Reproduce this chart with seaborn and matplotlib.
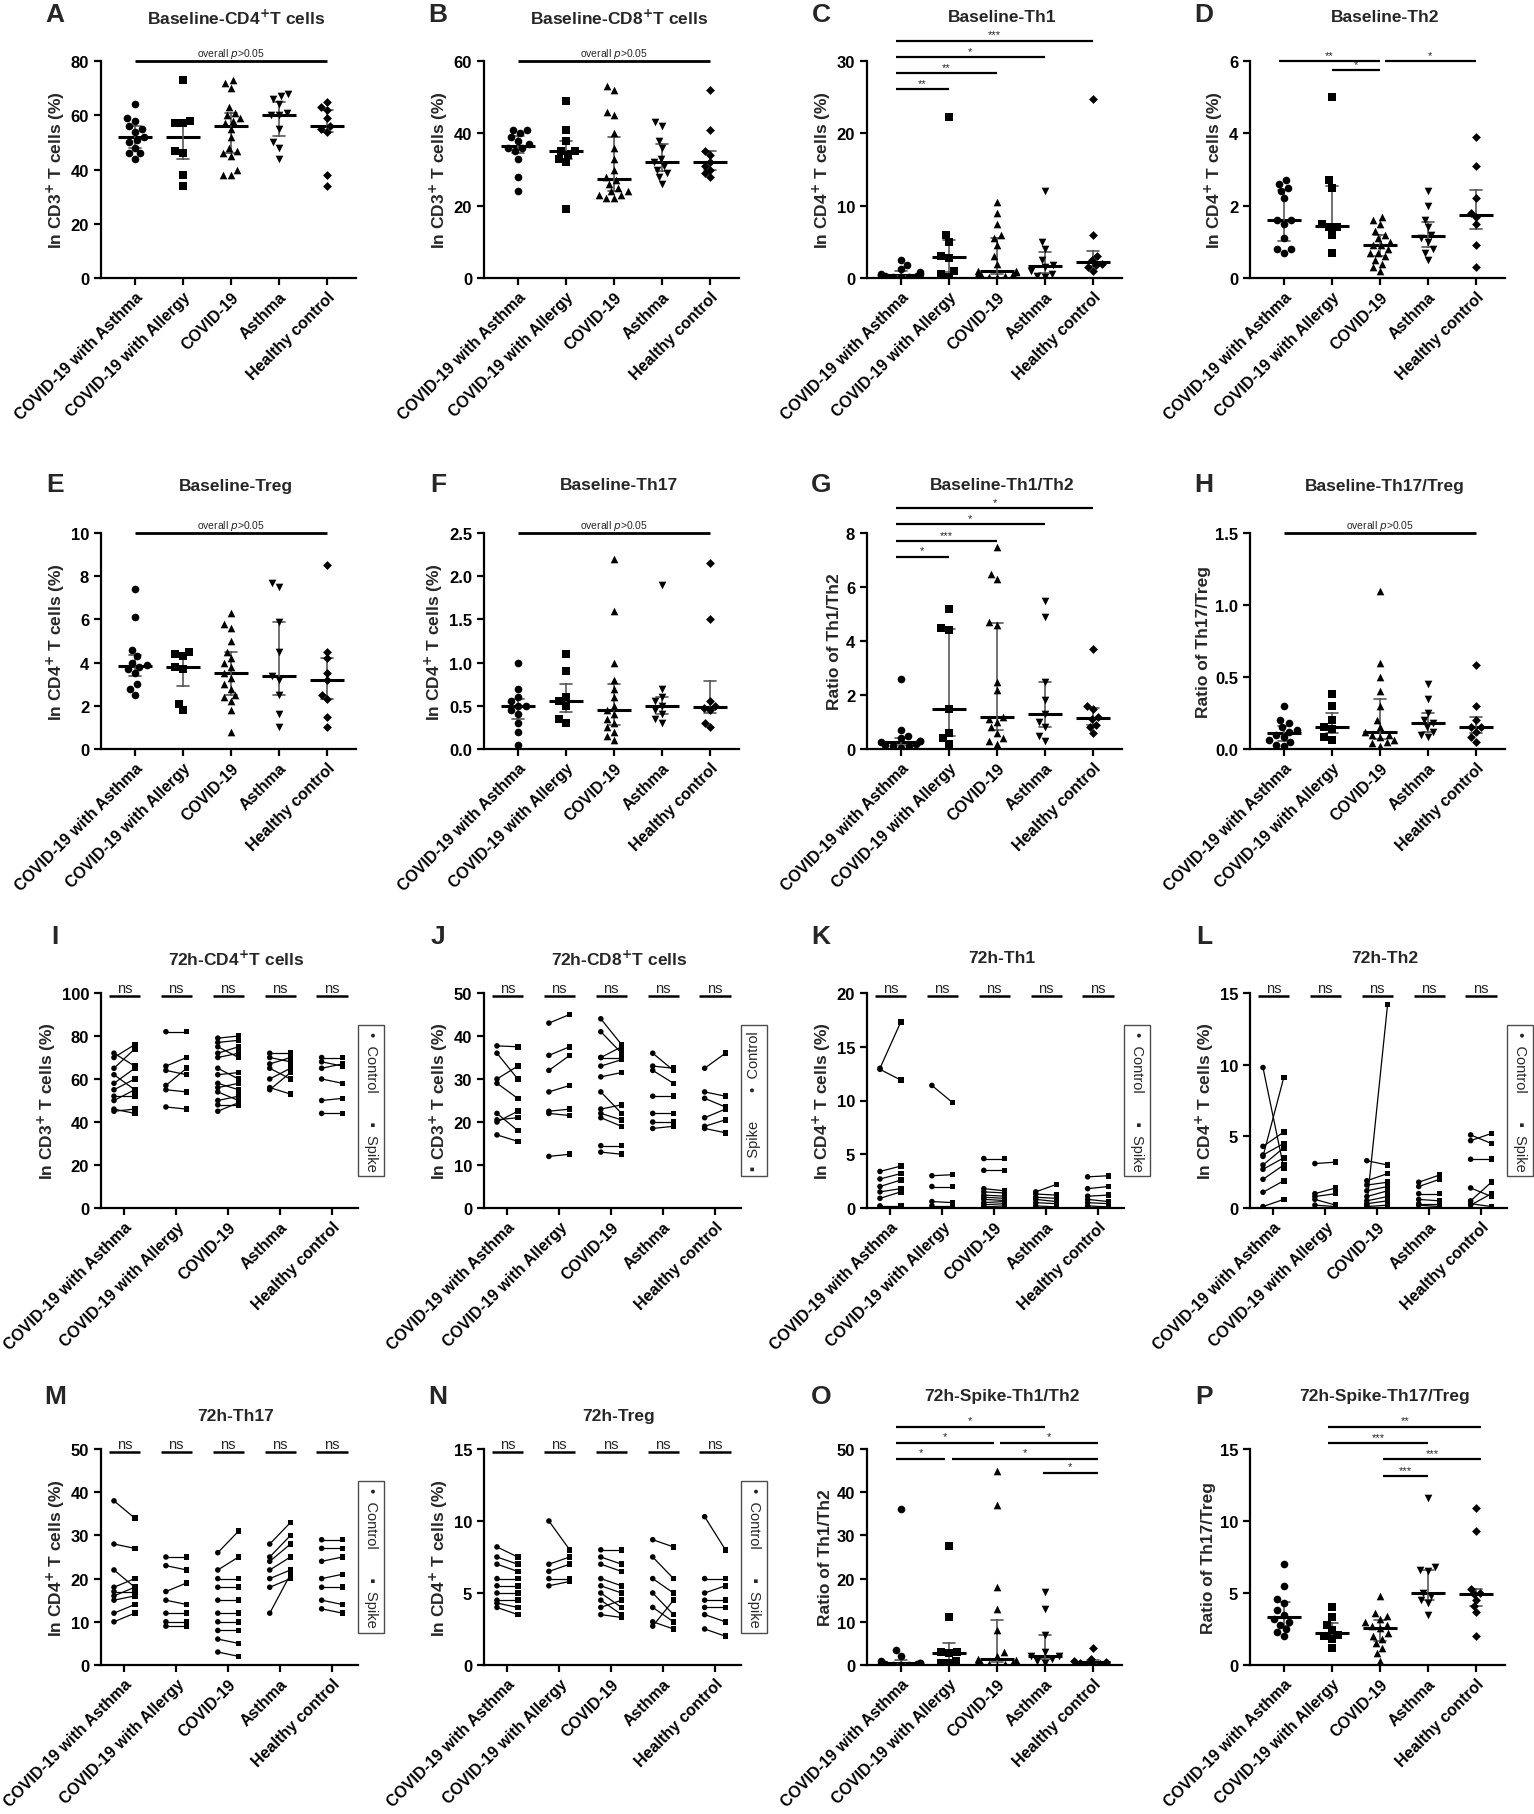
import warnings
import numpy as np
import pandas as pd
import seaborn as sns
import matplotlib.pyplot as plt

warnings.filterwarnings('ignore')

groups = ['COVID-19 with Asthma', 'COVID-19 with Allergy', 'COVID-19', 'Asthma', 'Healthy control']
group_markers = ['o', 's', '^', 'v', 'D']

# ---- baseline scatter panels (one list per group) ----
base_cd4 = [[64, 59, 58, 56, 55, 54, 52, 51, 50, 48, 46, 46, 44],
            [73, 58, 57, 57, 47, 46, 38, 34],
            [73, 72, 70, 63, 61, 60, 59, 58, 57, 55, 52, 48, 47, 46, 45, 40, 38, 38],
            [68, 67, 66, 64, 61, 60, 60, 55, 50, 48, 44],
            [65, 63, 62, 59, 56, 55, 54, 38, 34]]
base_cd8 = [[41, 41, 40, 39, 38, 37, 36, 36, 35, 33, 28, 24],
            [49, 41, 38, 35, 35, 34, 33, 32, 19],
            [53, 52, 46, 45, 40, 36, 33, 30, 28, 27, 26, 25, 24, 24, 23, 23, 22, 22],
            [43, 42, 38, 36, 33, 32, 31, 30, 29, 28, 26],
            [52, 41, 35, 34, 32, 31, 30, 29, 28]]
base_th1 = [[2.5, 1.8, 1.2, 0.8, 0.6, 0.5, 0.4, 0.3, 0.3, 0.2, 0.2, 0.1],
            [22.2, 6.0, 5.0, 3.0, 2.8, 1.0, 0.5, 0.2],
            [10.5, 9.0, 7.5, 6.0, 5.5, 4.5, 3.0, 2.0, 1.0, 0.9, 0.8, 0.6, 0.5, 0.4, 0.3, 0.2, 0.1],
            [12.0, 5.0, 4.0, 2.5, 1.8, 1.5, 1.0, 0.6, 0.3, 0.2],
            [24.8, 6.0, 3.0, 2.5, 2.0, 1.8, 1.5, 1.0]]
base_th2 = [[2.7, 2.6, 2.5, 2.4, 2.2, 1.6, 1.6, 1.5, 1.1, 0.8, 0.8, 0.7],
            [5.0, 2.7, 2.5, 1.5, 1.4, 1.4, 1.2, 0.7],
            [1.7, 1.6, 1.5, 1.3, 1.2, 1.1, 1.0, 0.9, 0.9, 0.8, 0.7, 0.7, 0.6, 0.5, 0.4, 0.3, 0.2],
            [2.4, 2.0, 1.6, 1.4, 1.2, 1.1, 1.0, 0.8, 0.7, 0.5],
            [3.9, 3.1, 2.2, 1.8, 1.7, 1.5, 0.9, 0.3]]
base_treg = [[7.4, 6.1, 4.6, 4.3, 4.0, 3.9, 3.8, 3.7, 3.5, 3.0, 2.8, 2.5],
             [4.5, 4.4, 4.3, 3.8, 3.7, 2.1, 1.8],
             [6.3, 5.8, 5.6, 5.0, 4.5, 4.2, 4.0, 3.8, 3.5, 3.3, 3.0, 2.8, 2.5, 2.4, 2.2, 1.8, 0.8],
             [7.7, 7.5, 5.9, 4.5, 3.4, 3.2, 2.5, 1.6, 1.0],
             [8.5, 4.5, 4.2, 3.5, 3.2, 2.5, 2.3, 1.5, 1.0]]
base_th17 = [[1.0, 0.7, 0.6, 0.55, 0.5, 0.5, 0.45, 0.4, 0.3, 0.2, 0.05],
             [1.1, 0.9, 0.6, 0.55, 0.5, 0.35, 0.3],
             [2.2, 1.6, 1.0, 0.8, 0.7, 0.6, 0.5, 0.45, 0.4, 0.35, 0.3, 0.25, 0.2, 0.15, 0.1],
             [1.9, 0.7, 0.6, 0.55, 0.5, 0.45, 0.4, 0.35, 0.3],
             [2.15, 1.5, 0.55, 0.5, 0.48, 0.45, 0.3, 0.25]]
base_th1_th2 = [[2.6, 0.7, 0.5, 0.4, 0.3, 0.3, 0.25, 0.2, 0.15, 0.1, 0.1, 0.05],
                [5.2, 4.5, 4.4, 1.5, 0.6, 0.4, 0.2],
                [7.5, 6.5, 6.3, 4.7, 4.6, 2.5, 2.2, 1.2, 1.1, 1.0, 0.8, 0.6, 0.4, 0.3, 0.2],
                [5.5, 4.9, 2.5, 1.8, 1.3, 1.0, 0.8, 0.5, 0.3],
                [3.7, 1.6, 1.5, 1.2, 1.1, 0.9, 0.8, 0.6]]
base_th17_treg = [[0.3, 0.2, 0.18, 0.15, 0.13, 0.12, 0.1, 0.08, 0.06, 0.05, 0.03, 0.02],
                  [0.38, 0.3, 0.2, 0.15, 0.14, 0.08, 0.06],
                  [1.1, 0.6, 0.5, 0.4, 0.3, 0.2, 0.15, 0.12, 0.1, 0.1, 0.08, 0.06, 0.05, 0.04, 0.02],
                  [0.45, 0.35, 0.25, 0.2, 0.18, 0.15, 0.12, 0.1, 0.08],
                  [0.58, 0.3, 0.2, 0.15, 0.15, 0.12, 0.08, 0.05]]
spike_th1_th2 = [[36, 3.5, 2, 1, 0.5, 0.5, 0.3, 0.2, 0.2, 0.1, 0.1, 0.05],
                 [27.5, 11, 3, 3, 2.7, 1, 0.5, 0.5],
                 [45, 37, 18, 13, 8, 3, 2, 1.5, 1.2, 1, 0.8, 0.5, 0.3, 0.2, 0.1],
                 [17, 13, 7, 3, 2, 2, 1.5, 1, 0.5],
                 [4, 1.5, 1, 0.8, 0.5, 0.3, 0.2, 0.1]]
spike_th17_treg = [[7.0, 5.5, 4.6, 4.3, 3.8, 3.5, 3.2, 3.0, 2.8, 2.5, 2.3, 2.0],
                   [4.0, 3.3, 2.8, 2.4, 2.1, 2.0, 1.8, 1.2],
                   [4.8, 3.6, 3.4, 3.2, 3.0, 2.8, 2.7, 2.6, 2.2, 2.0, 1.8, 1.5, 1.2, 0.8, 0.3],
                   [11.6, 6.8, 6.6, 6.5, 5.0, 4.8, 4.5, 4.3, 3.5],
                   [10.9, 9.3, 5.3, 5.0, 4.9, 4.5, 4.1, 3.7, 2.0]]

# ---- 72h paired panels: control vs spike, same order within a group ----
cd4_ctrl = [[72, 70, 65, 62, 58, 55, 52, 50, 46, 45], [82, 66, 64, 57, 55, 47],
            [79, 77, 75, 72, 70, 65, 62, 58, 56, 54, 50, 48, 45], [72, 70, 67, 65, 60, 55, 56],
            [70, 68, 65, 60, 50, 44]]
cd4_spike = [[66, 76, 74, 55, 65, 60, 52, 55, 44, 46], [82, 70, 62, 65, 54, 46],
             [80, 78, 70, 75, 72, 60, 63, 55, 58, 50, 52, 48, 49], [72, 68, 70, 60, 65, 63, 53],
             [70, 66, 67, 58, 51, 44]]
cd8_ctrl = [[37.7, 36, 30, 29, 22, 20.5, 20, 17], [43, 35.5, 32, 27, 22.5, 22, 12],
            [44, 41, 35, 35, 33, 30.5, 27, 23, 22, 21, 14.5, 13], [36, 33, 32, 26, 22, 20, 18.5],
            [32.5, 27, 25.5, 21, 19, 18.5]]
cd8_spike = [[37.5, 30, 33, 25.5, 18, 21, 22.5, 15.5], [45, 37.5, 35.5, 28.5, 23, 21.5, 12.5],
             [38, 36, 37.5, 35, 34.5, 31.5, 22, 24, 20.5, 19, 14.5, 12.5], [32, 32.5, 29, 26, 22, 20, 19],
             [36, 26, 23.5, 23, 20.5, 17.5]]
th1_ctrl = [[13, 12.9, 3.4, 2.7, 2, 1.5, 0.9, 0.2, 0.1], [11.4, 3.0, 2.0, 0.6, 0.2],
            [4.6, 3.5, 1.8, 1.5, 1.2, 1.0, 0.8, 0.5, 0.3, 0.1], [1.5, 1.3, 1.0, 0.8, 0.5, 0.2],
            [2.9, 1.8, 1.1, 0.8, 0.5, 0.2]]
th1_spike = [[17.3, 11.9, 3.9, 3.2, 2.6, 1.8, 1.5, 0.2, 0.1], [9.8, 3.1, 2.0, 0.5, 0.2],
             [4.6, 3.5, 1.6, 1.4, 1.1, 0.9, 0.7, 0.6, 0.4, 0.2], [2.2, 1.2, 0.9, 0.6, 0.4, 0.1],
             [3.0, 2.0, 1.2, 0.6, 0.4, 0.1]]
th2_ctrl = [[9.8, 4.3, 3.7, 3.6, 3.0, 2.7, 2.0, 1.1, 0.1], [3.1, 1.0, 0.8, 0.6, 0.2],
            [3.3, 1.9, 1.6, 1.2, 0.8, 0.5, 0.3, 0.2, 0.1], [1.8, 1.5, 1.0, 0.6, 0.3, 0.2],
            [5.1, 4.7, 3.4, 1.4, 0.5, 0.3, 0.2]]
th2_spike = [[2.8, 5.3, 4.5, 9.1, 4.2, 3.5, 3.0, 1.9, 0.6], [3.2, 1.4, 1.0, 0.2, 0.1],
             [3.0, 2.4, 1.8, 1.5, 1.2, 0.8, 0.5, 14.2, 0.2], [2.3, 2.0, 1.0, 0.5, 0.3, 0.1],
             [4.5, 5.2, 3.4, 0.8, 1.8, 0.1, 1.0]]
th17_ctrl = [[38, 28, 22, 18, 17, 16, 15, 12, 10], [25, 23, 17, 15, 12, 10, 9],
             [26, 22, 20, 18, 15, 12, 10, 8, 6, 3], [28, 25, 24, 22, 20, 18, 12],
             [29, 27, 24, 20, 18, 15, 13]]
th17_spike = [[34, 27, 18, 20, 17, 18, 16, 14, 12], [25, 22, 19, 14, 12, 10, 9],
              [31, 25, 20, 18, 15, 12, 10, 8, 5, 2], [33, 30, 28, 25, 22, 20, 21],
              [29, 27, 25, 21, 18, 14, 12]]
treg_ctrl = [[8.2, 7.5, 7, 6, 5.5, 5, 4.5, 4.3, 4], [10, 7, 6.5, 6, 5.5],
             [8, 7.5, 7, 6, 5.5, 5, 4.5, 4, 3.5], [8.7, 7.5, 6, 5, 4, 3, 2.7],
             [10.3, 6, 5, 4.5, 4, 3.5, 2.5]]
treg_spike = [[7.5, 7, 6.5, 6, 5.5, 5, 4.5, 4, 3.5], [8, 7.5, 7, 6, 5.8],
              [8, 7, 6.5, 5.5, 5, 4, 3.5, 4.5, 3.3], [8.2, 6, 5, 3.5, 3, 2.5, 4.5],
              [8, 6, 5.5, 4.5, 4, 3, 2]]

sns.set_theme(style='ticks')
plt.rcParams['font.family'] = ['Liberation Sans', 'DejaVu Sans']
plt.rcParams.update({'axes.linewidth': 1.6, 'xtick.major.width': 1.6, 'ytick.major.width': 1.6,
                     'xtick.major.size': 5, 'ytick.major.size': 5,
                     'xtick.color': 'black', 'ytick.color': 'black', 'axes.edgecolor': 'black'})

FW, FH = 1534, 1815
fig = plt.figure(figsize=(FW / 100, FH / 100), dpi=100)

col_x = [101, 484, 867, 1250]
row_y = [(62, 279), (534, 750), (994, 1209), (1450, 1666)]
title_y = [18, 486, 959, 1417]
letter_y = [15, 485, 937, 1397]

cd3 = r'In CD3$^{\mathbf{+}}$ T cells (%)'
cd4 = r'In CD4$^{\mathbf{+}}$ T cells (%)'


def make_ax(row, col, width, letter, title, title_high=False):
    top, bot = row_y[row]
    x = col_x[col]
    ax = fig.add_axes([x / FW, 1 - bot / FH, width / FW, (bot - top) / FH])
    fig.text((x - 46) / FW, 1 - letter_y[row] / FH, letter, fontsize=19, fontweight='bold',
             ha='center', va='center')
    ty = letter_y[row] if title_high else title_y[row]
    fig.text((x + 135) / FW, 1 - ty / FH, title, fontsize=12.5, fontweight='bold',
             ha='center', va='center')
    return ax


def finish_axis(ax, ymax, step, ylabel, xlim):
    ax.set_ylim(0, ymax)
    ticks = np.arange(0, ymax + step / 2, step)
    fmt = '{:.1f}' if step < 1 else '{:g}'
    ax.set_yticks(ticks)
    ax.set_yticklabels([fmt.format(t) for t in ticks], fontsize=12, fontweight='bold')
    ax.set_xticks(range(len(groups)))
    ax.set_xticklabels(groups, rotation=45, ha='right', rotation_mode='anchor',
                       fontsize=11.5, fontweight='bold')
    ax.tick_params(axis='x', pad=3)
    ax.set_xlim(*xlim)
    ax.set_xlabel('')
    ax.set_ylabel(ylabel, fontsize=12.5, fontweight='bold', labelpad=3)
    sns.despine(ax=ax)


def sig_bar(ax, x0, x1, y, label, size=8, lw=1.6):
    ax.plot([x0, x1], [y, y], color='black', lw=lw, clip_on=False, solid_capstyle='butt')
    ax.annotate(label, xy=((x0 + x1) / 2, y), xytext=(0, 1), textcoords='offset points',
                ha='center', va='bottom', fontsize=size, annotation_clip=False)


def baseline_panel(ax, values, ymax, step, ylabel, bars=(), overall=False):
    df = pd.DataFrame([(g, v) for g, vals in zip(groups, values) for v in vals],
                      columns=['group', 'value'])
    for g, m in zip(groups, group_markers):
        sns.swarmplot(data=df[df['group'] == g], x='group', y='value', order=groups,
                      marker=m, color='black', size=4.5 if m == 'D' else 5.5, ax=ax)
    sns.pointplot(data=df, x='group', y='value', order=groups, estimator='median',
                  errorbar=('pi', 50), color='black', linestyle='none', marker='_',
                  markersize=24, markeredgewidth=2.2, capsize=0.25,
                  err_kws={'linewidth': 1.2, 'color': '0.35'}, ax=ax)
    finish_axis(ax, ymax, step, ylabel, (-0.7, 4.6))
    if overall:
        sig_bar(ax, 0, 4, ymax, r'overall $p$>0.05', size=7.5, lw=2)
    for x0, x1, y, lab in bars:
        sig_bar(ax, x0, x1, y, lab)


def paired_panel(ax, ctrl, spike, ymax, step, ylabel, legend_rot=-90):
    rows = []
    for gi, (c_vals, s_vals) in enumerate(zip(ctrl, spike)):
        for k, (c, s) in enumerate(zip(c_vals, s_vals)):
            rows.append((gi, f'{gi}-{k}', 'Control', c))
            rows.append((gi, f'{gi}-{k}', 'Spike', s))
    df = pd.DataFrame(rows, columns=['gi', 'pair', 'cond', 'value'])
    df['xpos'] = df['gi'] + df['cond'].map({'Control': -0.2, 'Spike': 0.2})
    sns.lineplot(data=df, x='xpos', y='value', units='pair', estimator=None, color='black',
                 linewidth=0.9, legend=False, ax=ax)
    sns.scatterplot(data=df, x='xpos', y='value', style='cond',
                    markers={'Control': 'o', 'Spike': 's'}, color='black', s=16,
                    linewidth=0, legend=False, ax=ax)
    finish_axis(ax, ymax, step, ylabel, (-0.45, 4.5))
    for gi in range(len(groups)):
        sig_bar(ax, gi - 0.3, gi + 0.3, ymax * 0.985, 'ns', size=10.5, lw=1.8)
    txt = '•  Control       ▪  Spike' if legend_rot == -90 else '▪  Spike       •  Control'
    ax.text(1.05, 0.5, txt, rotation=legend_rot, transform=ax.transAxes, ha='center',
            va='center', fontsize=10.5, family=['Liberation Sans', 'DejaVu Sans'],
            bbox=dict(boxstyle='square,pad=0.4', fc='white', ec='0.3', lw=1))


W_BASE, W_PAIR = 255, 257

# row 1
ax = make_ax(0, 0, W_BASE, 'A', r'Baseline-CD4$^{\mathbf{+}}$T cells')
baseline_panel(ax, base_cd4, 80, 20, cd3, overall=True)
ax = make_ax(0, 1, W_BASE, 'B', r'Baseline-CD8$^{\mathbf{+}}$T cells')
baseline_panel(ax, base_cd8, 60, 20, cd3, overall=True)
ax = make_ax(0, 2, W_BASE, 'C', 'Baseline-Th1')
baseline_panel(ax, base_th1, 30, 10, cd4,
               bars=[(-0.1, 1, 26.1, '**'), (-0.1, 2, 28.3, '**'), (-0.1, 3, 30.5, '*'),
                     (-0.1, 4, 32.8, '***')])
ax = make_ax(0, 3, W_BASE, 'D', 'Baseline-Th2')
baseline_panel(ax, base_th2, 6, 2, cd4,
               bars=[(-0.1, 2, 6.0, '**'), (1, 2, 5.75, '*'), (2.1, 4, 6.0, '*')])

# row 2
ax = make_ax(1, 0, W_BASE, 'E', 'Baseline-Treg')
baseline_panel(ax, base_treg, 10, 2, cd4, overall=True)
ax = make_ax(1, 1, W_BASE, 'F', 'Baseline-Th17')
baseline_panel(ax, base_th17, 2.5, 0.5, cd4, overall=True)
ax = make_ax(1, 2, W_BASE, 'G', 'Baseline-Th1/Th2')
baseline_panel(ax, base_th1_th2, 8, 2, 'Ratio of Th1/Th2',
               bars=[(-0.1, 1, 7.12, '*'), (-0.1, 2, 7.7, '***'), (-0.1, 3, 8.32, '*'),
                     (-0.1, 4, 8.92, '*')])
ax = make_ax(1, 3, W_BASE, 'H', 'Baseline-Th17/Treg')
baseline_panel(ax, base_th17_treg, 1.5, 0.5, 'Ratio of Th17/Treg', overall=True)

# row 3
ax = make_ax(2, 0, W_PAIR, 'I', r'72h-CD4$^{\mathbf{+}}$T cells')
paired_panel(ax, cd4_ctrl, cd4_spike, 100, 20, cd3)
ax = make_ax(2, 1, W_PAIR, 'J', r'72h-CD8$^{\mathbf{+}}$T cells')
paired_panel(ax, cd8_ctrl, cd8_spike, 50, 10, cd3, legend_rot=90)
ax = make_ax(2, 2, W_PAIR, 'K', '72h-Th1')
paired_panel(ax, th1_ctrl, th1_spike, 20, 5, cd4)
ax = make_ax(2, 3, W_PAIR, 'L', '72h-Th2')
paired_panel(ax, th2_ctrl, th2_spike, 15, 5, cd4)

# row 4
ax = make_ax(3, 0, W_PAIR, 'M', '72h-Th17')
paired_panel(ax, th17_ctrl, th17_spike, 50, 10, cd4)
ax = make_ax(3, 1, W_PAIR, 'N', '72h-Treg')
paired_panel(ax, treg_ctrl, treg_spike, 15, 5, cd4)
ax = make_ax(3, 2, W_BASE, 'O', '72h-Spike-Th1/Th2', title_high=True)
baseline_panel(ax, spike_th1_th2, 50, 10, 'Ratio of Th1/Th2',
               bars=[(-0.1, 3, 55.2, '*'), (-0.1, 1.93, 51.4, '*'), (2.07, 4.1, 51.4, '*'),
                     (-0.1, 0.93, 47.8, '*'), (1.07, 4.1, 47.8, '*'), (2.95, 4.1, 44.5, '*')])
ax = make_ax(3, 3, W_BASE, 'P', '72h-Spike-Th17/Treg', title_high=True)
baseline_panel(ax, spike_th17_treg, 15, 5, 'Ratio of Th17/Treg',
               bars=[(0.93, 4.1, 16.55, '**'), (0.93, 3, 15.4, '***'), (2.07, 4.1, 14.3, '***'),
                     (2.07, 3, 13.1, '***')])

fig.savefig('out.png', dpi=100)
